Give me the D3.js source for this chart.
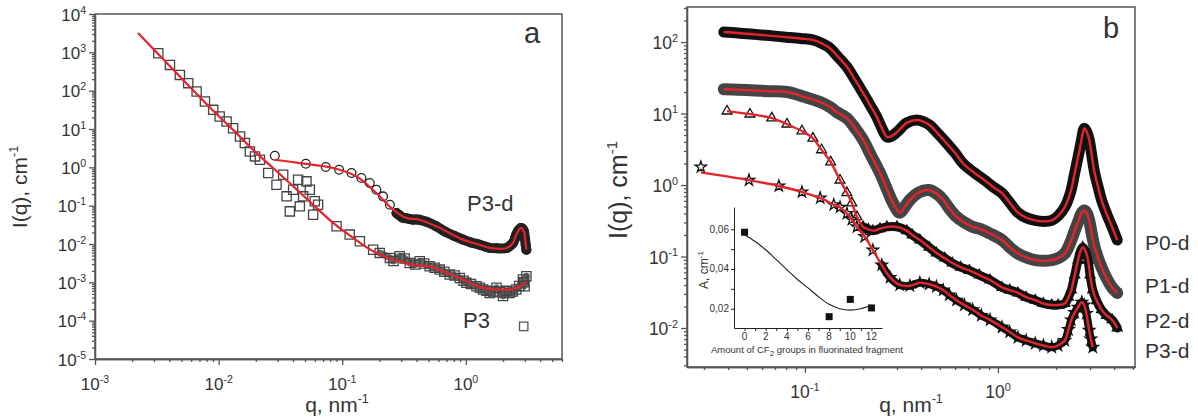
<!DOCTYPE html>
<html>
<head>
<meta charset="utf-8">
<script src="https://cdn.jsdelivr.net/npm/d3@7"></script>
<style>
body { margin: 0; background: #fff; }
svg text { font-family: "Liberation Sans", Arial, sans-serif; fill: #333; }
</style>
</head>
<body>
<svg id="chart" width="1198" height="417"></svg>
<script>
// ---- panel a : q, I(q) pairs ----
var aXExp = [-3, -2, -1, 0];
var aYExp = [-5, -4, -3, -2, -1, 0, 1, 2, 3, 4];

var p3Data = [[0.00325,946],[0.00404,470],[0.00486,258],[0.00568,157],[0.00664,95],[0.00775,52],[0.00904,31.6],[0.0102,21.2],
  [0.0116,15.7],[0.0131,10.5],[0.0149,6.4],[0.0163,4.3],[0.0179,2.6],[0.0197,1.93],[0.0216,1.58],
  [0.0252,0.71],[0.0294,0.35],[0.0333,0.64],[0.0355,0.175],[0.0401,0.26],[0.0377,0.071],[0.044,0.475],[0.0483,0.175],
  [0.0514,0.43],[0.0547,0.26],[0.06,0.13],[0.0582,0.058],[0.0638,0.106],[0.0454,0.096],
  [0.09,0.0289],[0.115,0.0176],[0.139,0.0118],[0.178,0.0071],[0.201,0.00586],[0.243,0.00434],[0.26,0.0036],[0.292,0.00479],
  [0.32,0.0042],[0.352,0.00321],[0.39,0.0029],[0.424,0.00355],[0.46,0.0031],[0.51,0.00263],[0.56,0.0024],[0.615,0.00215],
  [0.67,0.0019],[0.741,0.0016],[0.81,0.0015],[0.893,0.0013],[0.96,0.0011],[1.01,0.00097],[1.1,0.0009],[1.22,0.00079],
  [1.3,0.00072],[1.38,0.00065],[1.47,0.0006],[1.56,0.00053],[1.67,0.00058],[1.77,0.00072],[1.88,0.00055],[2.0,0.00044],
  [2.1,0.0006],[2.26,0.00053],[2.4,0.00058],[2.56,0.00065],[2.7,0.0008],[2.9,0.00118],[2.95,0.001],[2.99,0.00079],[3.09,0.00145]];
var p3Fit = [[0.00223,3200],[0.00904,30],[0.0131,9.5],[0.019,2.87],[0.0276,0.96],[0.0401,0.32],[0.0582,0.106],[0.0845,0.0354],
  [0.1225,0.0144],[0.178,0.0065],[0.258,0.0039],[0.374,0.0029],[0.51,0.0026],[0.70,0.00177],[0.95,0.00118],[1.29,0.00076],
  [1.77,0.00065],[2.41,0.00067],[2.9,0.00087],[3.09,0.00107]];
var p3dDataA = [[0.0285,2.0],[0.0508,1.24],[0.0736,1.02],[0.0944,0.865],[0.119,0.71],[0.143,0.526],[0.167,0.39],[0.189,0.261],
  [0.214,0.175],[0.243,0.106],[0.275,0.0645],[0.29,0.056],[0.311,0.0479],[0.33,0.047],[0.35,0.045],[0.374,0.0432],[0.4,0.0435],
  [0.42,0.043],[0.48,0.038],[0.578,0.0289],[0.68,0.021],[0.8,0.0165],[0.95,0.013],[1.1,0.011],[1.29,0.0096],[1.45,0.0085],
  [1.56,0.0079],[1.8,0.0077],[2.14,0.0079],[2.3,0.0092],[2.41,0.0107],[2.5,0.014],[2.56,0.0176],[2.65,0.022],[2.79,0.0263],
  [2.88,0.025],[2.95,0.0214],[3.02,0.013],[3.05,0.0095],[3.09,0.0071]];
var p3dFitA = [[0.0285,1.58],[0.0454,1.29],[0.0845,0.96],[0.13,0.58],[0.189,0.214],[0.258,0.079],[0.33,0.048],[0.42,0.043],
  [0.578,0.0289],[0.95,0.013],[1.29,0.0096],[1.56,0.0079],[2.14,0.0079],[2.41,0.0107],[2.56,0.0176],[2.79,0.0263],
  [2.95,0.0214],[3.02,0.013],[3.09,0.0071]];
var p3Legend = [[2.94,7.1e-5]];

// ---- panel b ----
var bXExp = [-1, 0];
var bYExp = [-2, -1, 0, 1, 2];
var bNames = ["P0-d", "P1-d", "P2-d", "P3-d"];

var p0dData = [[0.038,138],[0.045,134],[0.055,128],[0.065,123],[0.08,117],[0.095,112],[0.11,107],[0.122,96],[0.135,82],
  [0.146,65],[0.165,45],[0.18,31],[0.2,19.4],[0.218,13],[0.236,8.9],[0.25,6.3],[0.266,4.7],[0.28,4.8],[0.3,5.5],[0.337,7.4],
  [0.38,8.1],[0.41,7.7],[0.443,6.9],[0.49,5.2],[0.54,3.9],[0.6,2.8],[0.66,2.0],[0.75,1.5],[0.86,1.15],[0.95,0.93],[1.05,0.77],
  [1.15,0.57],[1.27,0.41],[1.4,0.35],[1.56,0.32],[1.72,0.31],[1.9,0.32],[2.05,0.37],[2.22,0.49],[2.38,0.8],[2.5,1.48],
  [2.62,2.7],[2.72,4.5],[2.8,6.2],[2.88,5.6],[2.97,4.3],[3.07,2.5],[3.17,1.48],[3.3,0.95],[3.44,0.62],[3.65,0.4],[3.9,0.26],[4.15,0.17]];
var p1dData = [[0.038,21.9],[0.045,21.5],[0.055,21],[0.065,20.5],[0.081,20],[0.1,17],[0.12,14.5],[0.135,12.3],[0.146,10.5],
  [0.165,8.6],[0.18,6.5],[0.2,4.3],[0.22,2.6],[0.245,1.47],[0.265,0.9],[0.286,0.56],[0.31,0.41],[0.33,0.5],[0.35,0.62],
  [0.39,0.79],[0.44,0.85],[0.48,0.76],[0.52,0.62],[0.56,0.47],[0.61,0.36],[0.67,0.3],[0.74,0.26],[0.82,0.24],[0.91,0.21],
  [1.05,0.17],[1.15,0.135],[1.27,0.11],[1.4,0.097],[1.56,0.089],[1.72,0.087],[1.9,0.089],[2.05,0.095],[2.22,0.11],[2.38,0.16],
  [2.5,0.23],[2.62,0.32],[2.72,0.41],[2.8,0.44],[2.88,0.41],[2.97,0.32],[3.07,0.2],[3.17,0.135],[3.3,0.095],[3.44,0.071],
  [3.65,0.05],[3.9,0.037],[4.15,0.031]];
var p2dData = [[0.0395,10.8],[0.0519,9.8],[0.0674,8.65],[0.0807,7.1],[0.0965,5.7],[0.11,4.5],[0.122,3.1],[0.136,2.1],
  [0.152,1.17],[0.165,0.78],[0.175,0.56],[0.186,0.36],[0.2,0.26],[0.213,0.24],[0.225,0.23],[0.245,0.245],[0.266,0.26],
  [0.3,0.26],[0.337,0.23],[0.36,0.2],[0.394,0.17],[0.44,0.135],[0.48,0.112],[0.53,0.095],[0.58,0.081],[0.64,0.071],[0.71,0.064],
  [0.8,0.055],[0.91,0.047],[1.05,0.037],[1.15,0.034],[1.27,0.031],[1.4,0.027],[1.56,0.0245],[1.72,0.022],[1.9,0.021],
  [2.05,0.021],[2.22,0.022],[2.32,0.027],[2.4,0.034],[2.5,0.055],[2.6,0.089],[2.68,0.12],[2.75,0.135],[2.84,0.12],[2.93,0.089],
  [3.0,0.055],[3.1,0.034],[3.25,0.024],[3.44,0.018],[3.65,0.015],[3.9,0.013],[4.15,0.01]];
var p3dData = [[0.0289,1.79],[0.0513,1.17],[0.0733,0.97],[0.0965,0.8],[0.12,0.66],[0.141,0.53],[0.152,0.49],[0.165,0.4],
  [0.175,0.33],[0.186,0.26],[0.204,0.19],[0.225,0.123],[0.25,0.076],[0.276,0.051],[0.31,0.04],[0.35,0.039],[0.394,0.043],
  [0.44,0.041],[0.48,0.038],[0.52,0.034],[0.56,0.029],[0.61,0.0245],[0.67,0.021],[0.74,0.018],[0.82,0.015],[0.91,0.013],
  [1.05,0.0103],[1.15,0.0088],[1.27,0.0074],[1.4,0.0067],[1.56,0.0061],[1.72,0.0057],[1.9,0.0054],[2.05,0.0057],[2.22,0.0067],
  [2.32,0.0095],[2.4,0.013],[2.5,0.0165],[2.6,0.0195],[2.72,0.023],[2.8,0.021],[2.87,0.016],[2.97,0.0093],[3.03,0.007],[3.1,0.0054]];
var p3dFit = [[0.0289,1.5]].concat(p3dData.slice(1));

// ---- inset ----
var insetN = [0, 8, 10, 12];
var insetA = [0.0585, 0.016, 0.0247, 0.0204];
var insetFitN = [0, 1, 2, 3, 4, 5, 6, 7, 8, 9, 10, 11, 12];
var insetFitA = [0.0572, 0.0538, 0.0497, 0.0447, 0.0397, 0.0347, 0.0305, 0.026, 0.0222, 0.020, 0.0193, 0.020, 0.0217];
var insetYTicks = [0.02, 0.03, 0.04, 0.05, 0.06];
var insetYLabels = [0.02, 0.04, 0.06];
var insetXTicks = [0, 1, 2, 3, 4, 5, 6, 7, 8, 9, 10, 11, 12];
var insetXLabels = [0, 2, 4, 6, 8, 10, 12];

var svg = d3.select("#chart");
var red = "#e3242b";

function minorTicks(domain) {
	var out = [];
	var lo = Math.floor(Math.log10(domain[0])), hi = Math.ceil(Math.log10(domain[1]));
	for (var k = lo; k <= hi; k++) {
		for (var m = 2; m < 10; m++) {
			var v = m * Math.pow(10, k);
			if (v >= domain[0] && v <= domain[1]) out.push(v);
		}
	}
	return out;
}

function powText(sel, fs) {
	sel.text("10").append("tspan")
	.attr("dy", -fs * 0.42)
	.attr("font-size", fs * 0.62)
	.text(function (d) { return d; });
}

function drawFrame(g, x, y, xExp, yExp, fs) {
	var xr = x.range(), yr = y.range();
	var xMajor = xExp.map(function (e) { return Math.pow(10, e); });
	var yMajor = yExp.map(function (e) { return Math.pow(10, e); });

	var ax = g.append("g").attr("transform", "translate(0," + yr[0] + ")").attr("color", "#555");
	ax.append("g").call(d3.axisBottom(x).tickValues(minorTicks(x.domain())).tickSize(3).tickSizeOuter(0).tickFormat(""));
	ax.append("g").call(d3.axisBottom(x).tickValues(xMajor).tickSize(6).tickSizeOuter(0).tickFormat(""));

	var ay = g.append("g").attr("transform", "translate(" + xr[0] + ",0)").attr("color", "#555");
	ay.append("g").call(d3.axisLeft(y).tickValues(minorTicks(y.domain())).tickSize(3).tickSizeOuter(0).tickFormat(""));
	ay.append("g").call(d3.axisLeft(y).tickValues(yMajor).tickSize(6).tickSizeOuter(0).tickFormat(""));

	g.selectAll("line, path").attr("stroke-width", 1.3);

	g.append("rect")
	.attr("x", xr[0]).attr("y", yr[1])
	.attr("width", xr[1] - xr[0]).attr("height", yr[0] - yr[1])
	.attr("fill", "none").attr("stroke", "#555").attr("stroke-width", 1.5);

	g.append("g").selectAll("text").data(xExp).enter().append("text")
	.attr("x", function (d) { return x(Math.pow(10, d)); })
	.attr("y", yr[0] + 31)
	.attr("text-anchor", "middle")
	.attr("font-size", fs)
	.call(powText, fs);

	g.append("g").selectAll("text").data(yExp).enter().append("text")
	.attr("x", xr[0] - 9)
	.attr("y", function (d) { return y(Math.pow(10, d)) + fs * 0.4; })
	.attr("text-anchor", "end")
	.attr("font-size", fs)
	.call(powText, fs);
}

function unitTitle(g, x, y, rot, fs, main) {
	var t = g.append("text")
		.attr("transform", "translate(" + x + "," + y + ")" + (rot ? " rotate(-90)" : ""))
		.attr("text-anchor", "middle")
		.attr("font-size", fs);
	t.append("tspan").text(main);
	t.append("tspan").attr("dy", -fs * 0.42).attr("font-size", fs * 0.6).text("-1");
}

function drawSeries(g, x, y, s) {
	var line = d3.line()
		.x(function (d) { return x(d[0]); })
		.y(function (d) { return y(d[1]); })
		.curve(d3.curveCatmullRom.alpha(0.5));
	if (s.bandFrom != null) {
		var dense = s.data.filter(function (d) { return d[0] >= s.bandFrom; })
			.sort(function (a, b) { return a[0] - b[0]; });
		g.append("path").datum(dense)
		.attr("d", line)
		.attr("fill", "none")
		.attr("stroke", s.bandColor || s.color)
		.attr("stroke-width", s.band)
		.attr("stroke-linejoin", "round")
		.attr("stroke-linecap", "round");
	}
	g.append("g").selectAll("path").data(s.data).enter().append("path")
	.attr("transform", function (d) { return "translate(" + x(d[0]) + "," + y(d[1]) + ")"; })
	.attr("d", d3.symbol().type(s.symbol).size(s.size))
	.attr("fill", "none")
	.attr("stroke", s.color)
	.attr("stroke-width", 1.3);
}

function drawFit(g, x, y, data, w) {
	var line = d3.line()
		.x(function (d) { return x(d[0]); })
		.y(function (d) { return y(d[1]); })
		.curve(d3.curveCatmullRom.alpha(0.5));
	g.append("path").datum(data)
	.attr("d", line)
	.attr("fill", "none")
	.attr("stroke", red)
	.attr("stroke-width", w);
}

// Panel a

var ga = svg.append("g");
var xa = d3.scaleLog().domain([1e-3, 6]).range([95, 562]);
var ya = d3.scaleLog().domain([1e-5, 1e4]).range([359, 14]);

drawFrame(ga, xa, ya, aXExp, aYExp, 17);
drawSeries(ga, xa, ya, {data: p3Data, symbol: d3.symbolSquare, size: 85, color: "#444", bandFrom: 0.2, band: 7, bandColor: "#666"});
drawSeries(ga, xa, ya, {data: p3dDataA, symbol: d3.symbolCircle, size: 60, color: "#222", bandFrom: 0.27, band: 10});
drawFit(ga, xa, ya, p3Fit, 2.2);
drawFit(ga, xa, ya, p3dFitA, 2.2);
drawSeries(ga, xa, ya, {data: p3Legend, symbol: d3.symbolSquare, size: 70, color: "#555"});

ga.append("text").attr("x", 467).attr("y", 211).attr("font-size", 22).text("P3-d");
ga.append("text").attr("x", 463).attr("y", 328).attr("font-size", 22).text("P3");
ga.append("text").attr("x", 532).attr("y", 43).attr("text-anchor", "middle").attr("font-size", 29).text("a");
unitTitle(ga, 27, 187, true, 21, "I(q), cm");
unitTitle(ga, 337, 412, false, 21, "q, nm");

// Panel b

var gb = svg.append("g");
var xb = d3.scaleLog().domain([0.0245, 5.13]).range([687, 1135]);
var yb = d3.scaleLog().domain([0.00285, 309]).range([367, 7]);

drawFrame(gb, xb, yb, bXExp, bYExp, 17.5);

var bSeries = [
	{data: p0dData, fit: p0dData, symbol: d3.symbolCircle, size: 55, color: "#111", bandFrom: 0, band: 11},
	{data: p1dData, fit: p1dData, symbol: d3.symbolSquare, size: 55, color: "#444", bandFrom: 0, band: 12},
	{data: p2dData, fit: p2dData, symbol: d3.symbolTriangle, size: 42, color: "#111", bandFrom: 0.19, band: 9},
	{data: p3dData, fit: p3dFit, symbol: d3.symbolStar, size: 40, color: "#111", bandFrom: 0.24, band: 8}
];
bSeries.forEach(function (s) { drawSeries(gb, xb, yb, s); });
bSeries.forEach(function (s) { drawFit(gb, xb, yb, s.fit, 2.4); });

var labelY = [250, 293, 328, 358];
gb.selectAll(".name").data(bNames).enter().append("text")
.attr("class", "name")
.attr("x", 1145)
.attr("y", function (d, i) { return labelY[i]; })
.attr("font-size", 21)
.text(function (d) { return d; });

gb.append("text").attr("x", 1111).attr("y", 38).attr("text-anchor", "middle").attr("font-size", 29).text("b");
unitTitle(gb, 627, 190, true, 25, "I(q), cm");
unitTitle(gb, 911, 412, false, 21, "q, nm");

// Inset

var gi = svg.append("g");
var xi = d3.scaleLinear().domain([-1, 13]).range([734, 882]);
var yi = d3.scaleLinear().domain([0.0103, 0.0712]).range([328, 207]);

gi.append("g").attr("transform", "translate(0,328)").attr("color", "#222")
.call(d3.axisBottom(xi).tickValues(insetXTicks).tickSize(3).tickSizeOuter(0).tickFormat(""));
gi.append("g").attr("transform", "translate(734,0)").attr("color", "#222")
.call(d3.axisLeft(yi).tickValues(insetYTicks).tickSize(3).tickSizeOuter(0).tickFormat(""));

gi.selectAll(".xl").data(insetXLabels).enter().append("text")
.attr("class", "xl")
.attr("x", function (d) { return xi(d); })
.attr("y", 340)
.attr("text-anchor", "middle")
.attr("font-size", 10)
.text(function (d) { return d; });

gi.selectAll(".yl").data(insetYLabels).enter().append("text")
.attr("class", "yl")
.attr("x", 729)
.attr("y", function (d) { return yi(d) + 3.5; })
.attr("text-anchor", "end")
.attr("font-size", 10)
.text(function (d) { return d3.format(".2f")(d).replace(".", ","); });

gi.append("path")
.datum(insetFitN.map(function (n, i) { return [n, insetFitA[i]]; }))
.attr("d", d3.line().x(function (d) { return xi(d[0]); }).y(function (d) { return yi(d[1]); }).curve(d3.curveCatmullRom))
.attr("fill", "none")
.attr("stroke", "#222")
.attr("stroke-width", 1.1);

gi.selectAll(".pt").data(insetN).enter().append("rect")
.attr("class", "pt")
.attr("x", function (d) { return xi(d) - 3.5; })
.attr("y", function (d, i) { return yi(insetA[i]) - 3.5; })
.attr("width", 7).attr("height", 7)
.attr("fill", "#111");

var it = gi.append("text").attr("x", 807).attr("y", 353).attr("text-anchor", "middle").attr("font-size", 9.5);
it.append("tspan").text("Amount of CF");
it.append("tspan").attr("dy", 3).attr("font-size", 8).text("2");
it.append("tspan").attr("dy", -3).text(" groups in fluorinated fragment");

var iy = gi.append("text").attr("transform", "translate(708,270) rotate(-90)").attr("text-anchor", "middle").attr("font-size", 12);
iy.append("tspan").text("A, cm");
iy.append("tspan").attr("dy", -5).attr("font-size", 8).text("-1");
</script>
</body>
</html>
